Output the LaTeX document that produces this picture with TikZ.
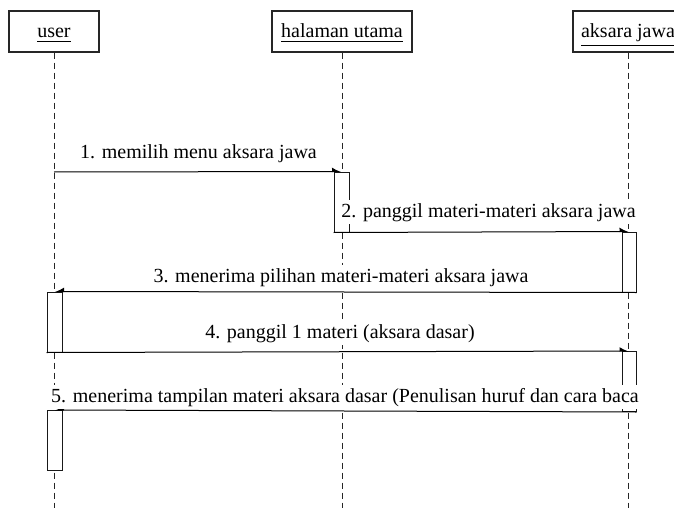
\documentclass[tikz,border=0pt]{standalone}
\usepackage{fontspec}
\setmainfont{Liberation Serif}
\usetikzlibrary{arrows.meta}
\begin{document}
\begin{tikzpicture}[x=0.5pt,y=-0.5pt,
  font=\fontsize{10}{12}\selectfont,
  hdr/.style={draw=black!85, line width=0.55pt, minimum width=45pt, minimum height=20.5pt, text height=8pt, text depth=1.5pt, inner sep=0pt},
  life/.style={draw=black!85, line width=0.5pt, dash pattern=on 3pt off 2pt},
  act/.style={draw=black!90, fill=white, line width=0.5pt, minimum width=7.5pt, minimum height=30pt, inner sep=0pt},
  msg/.style={draw=black, line width=0.5pt, -{Latex[length=4pt,width=4pt,harpoon]}},
  ret/.style={draw=black, line width=0.5pt, -{Latex[length=4pt,width=4pt,harpoon,swap]}},
  lbl/.style={fill=white, inner sep=1.5pt, anchor=base}
]
\useasboundingbox (0,0) rectangle (674,508);
\clip (0,0) rectangle (674,508);
% headers
\node[hdr] (u) at (54,31.5) {\underline{user}};
\node[hdr, minimum width=70pt] (h) at (342,31.5) {\underline{halaman utama}};
\node[hdr, minimum width=55pt] (a) at (628,31.5) {\underline{aksara jawa}};
% lifeline ends
\coordinate (ue) at (54,510);
\coordinate (he) at (342,510);
\coordinate (ae) at (628,510);
\draw[life] (u.south) -- (ue);
\draw[life] (h.south) -- (he);
\draw[life] (a.south) -- (ae);
% activations
\node[act] (h1) at (341.5,202) {};
\node[act, minimum width=7pt] (a1) at (629,262) {};
\node[act] (u1) at (54.5,322) {};
\node[act, minimum width=7pt] (a2) at (629,381.5) {};
\node[act] (u2) at (54.5,440.5) {};
% messages
\coordinate (m1s) at (54,172);
\draw[msg] (m1s) -- (h1.north);
\draw[msg] (h1.south west) -- (a1.north);
\draw[ret] (a1.south east) -- (u1.north);
\draw[msg] (u1.south west) -- (a2.north);
\draw[ret] (a2.south east) -- (u2.north);
% labels
\node[lbl] (l1) at (198.5,158) {1. memilih menu aksara jawa};
\node[lbl] (l2) at (488.5,217) {2. panggil materi-materi aksara jawa};
\node[lbl] (l3) at (341,282) {3. menerima pilihan materi-materi aksara jawa};
\node[lbl] (l4) at (340,338) {4. panggil 1 materi (aksara dasar)};
\node[lbl] (l5) at (345,402) {5. menerima tampilan materi aksara dasar (Penulisan huruf dan cara baca};
\end{tikzpicture}
\end{document}
